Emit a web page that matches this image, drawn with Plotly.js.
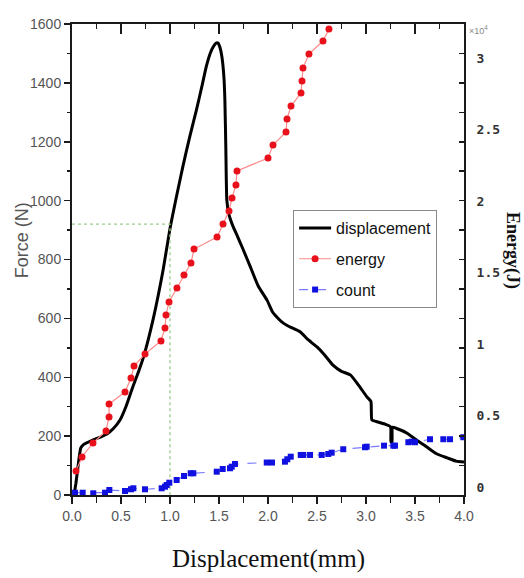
<!DOCTYPE html>
<html>
<head>
<meta charset="utf-8">
<script src="https://cdn.plot.ly/plotly-3.0.1.min.js"></script>
<style>html,body{margin:0;padding:0;background:#fff;}#chart{width:524px;height:578px;}</style>
</head>
<body>
<div id="chart"></div>
<script>
// ---- data ----
const dispX = [0.02,0.04,0.07,0.09,0.12,0.20,0.29,0.36,0.42,0.49,0.55,0.62,0.68,0.73,0.83,0.93,1.00,1.07,1.13,1.20,1.27,1.33,1.37,1.41,1.44,1.47,1.49,1.51,1.53,1.55,1.56,1.57,1.58,1.60,1.64,1.68,1.74,1.82,1.90,1.99,2.05,2.14,2.20,2.33,2.40,2.50,2.58,2.66,2.75,2.84,2.92,3.01,3.05,3.06,3.10,3.20,3.25,3.255,3.265,3.27,3.32,3.42,3.50,3.62,3.72,3.83,3.92,4.00];
const dispF = [0,40,120,160,172,185,197,208,225,255,300,367,420,469,600,765,905,1020,1114,1215,1308,1395,1455,1500,1522,1535,1535,1520,1488,1420,1342,1172,1002,955,915,885,839,775,710,662,620,588,575,554,530,503,475,442,420,408,375,333,318,255,250,240,232,180,180,230,225,210,190,163,140,126,115,112];

const energyX = [0.041,0.102,0.214,0.347,0.378,0.378,0.541,0.602,0.633,0.745,0.908,0.949,0.959,0.990,1.071,1.143,1.214,1.245,1.480,1.541,1.602,1.633,1.673,1.684,2.000,2.051,2.184,2.194,2.235,2.337,2.347,2.357,2.418,2.561,2.622];
const energyV = [0.112,0.210,0.308,0.392,0.490,0.580,0.664,0.762,0.846,0.930,1.021,1.112,1.203,1.294,1.392,1.483,1.566,1.664,1.748,1.839,1.930,2.021,2.112,2.210,2.301,2.392,2.483,2.573,2.664,2.755,2.839,2.930,3.028,3.119,3.203];

const countX = [0.031,0.109,0.217,0.337,0.381,0.541,0.602,0.626,0.745,0.915,0.949,0.966,0.993,1.068,1.143,1.211,1.238,1.477,1.538,1.612,1.630,1.663,1.987,2.041,2.173,2.197,2.232,2.334,2.360,2.429,2.548,2.615,2.650,2.768,2.990,3.007,3.184,3.279,3.296,3.432,3.466,3.500,3.653,3.789,3.857,3.993];
const countV = [-0.040,-0.040,-0.044,-0.040,-0.021,-0.028,-0.016,-0.009,-0.016,-0.009,0.002,0.014,0.030,0.049,0.077,0.096,0.096,0.107,0.126,0.131,0.142,0.161,0.171,0.171,0.177,0.194,0.212,0.224,0.224,0.224,0.224,0.231,0.240,0.264,0.278,0.282,0.289,0.289,0.289,0.313,0.317,0.313,0.334,0.334,0.334,0.348];

const guideX = [0, 1.0, 1.0];
const guideY = [920, 920, 0];

const seriesNames = ['displacement', 'energy', 'count'];
const energyTickVals = [0, 0.5, 1, 1.5, 2, 2.5, 3];
const energyTickText = ['0', '0.5', '1', '1.5', '2', '2.5', '3'];

// ---- chart ----
const sans = 'Arial, "Liberation Sans", sans-serif';
const serif = '"Times New Roman", "Liberation Serif", serif';

const traces = [
  {x: dispX, y: dispF, name: seriesNames[0], mode: 'lines', legendgroup: 'a',
   line: {color: '#000000', width: 3, shape: 'spline', smoothing: 0.5}, hoverinfo: 'skip'},
  {x: energyX, y: energyV, name: seriesNames[1], mode: 'lines+markers', yaxis: 'y2', legendgroup: 'b',
   line: {color: '#ff8a8a', width: 1.2},
   marker: {color: '#e8101a', size: 7, symbol: 'circle'}, hoverinfo: 'skip'},
  {x: countX, y: countV, name: seriesNames[2], mode: 'lines+markers', yaxis: 'y2', legendgroup: 'c',
   line: {color: '#7a7aff', width: 1.2, dash: 'dash'},
   marker: {color: '#1010e0', size: 6, symbol: 'square'}, hoverinfo: 'skip'},
  {x: guideX, y: guideY, mode: 'lines', showlegend: false,
   line: {color: '#9ccc8c', width: 1.3, dash: 'dot'}, hoverinfo: 'skip'},
  {x: [], y: [], xaxis: 'x2', yaxis: 'y3', mode: 'lines', showlegend: false, hoverinfo: 'skip'}
];

const axisLine = {showline: true, linecolor: '#1a1a1a', linewidth: 2, showgrid: false, zeroline: false};

const layout = {
  width: 524, height: 578,
  margin: {l: 72, r: 60, t: 24, b: 83},
  paper_bgcolor: '#ffffff', plot_bgcolor: '#ffffff',
  showlegend: true,
  xaxis: Object.assign({}, axisLine, {
    range: [0, 4], tickmode: 'linear', tick0: 0, dtick: 0.5, tickformat: '.1f',
    ticks: 'outside', ticklen: 7, tickwidth: 1.5, tickcolor: '#1a1a1a',
    minor: {dtick: 0.25, ticks: 'outside', ticklen: 6, tickwidth: 1.5, tickcolor: '#1a1a1a'},
    tickfont: {family: sans, size: 14, color: '#555555'},
    anchor: 'y'
  }),
  xaxis2: Object.assign({}, axisLine, {
    range: [0, 4], overlaying: 'x', side: 'top', anchor: 'y',
    tickmode: 'linear', tick0: 0, dtick: 0.5, ticks: 'inside', ticklen: 10, tickwidth: 1.5, tickcolor: '#1a1a1a',
    minor: {dtick: 0.25, ticks: 'inside', ticklen: 5, tickwidth: 1.5, tickcolor: '#1a1a1a'},
    showticklabels: false
  }),
  yaxis: Object.assign({}, axisLine, {
    range: [0, 1600], tickmode: 'linear', tick0: 0, dtick: 200,
    ticks: 'outside', ticklen: 6, tickwidth: 1.5, tickcolor: '#1a1a1a',
    minor: {dtick: 100, ticks: 'outside', ticklen: 3, tickwidth: 1.5, tickcolor: '#1a1a1a'},
    tickfont: {family: sans, size: 14, color: '#555555'},
    anchor: 'x'
  }),
  yaxis2: Object.assign({}, axisLine, {
    range: [-0.056, 3.238], overlaying: 'y', side: 'right', anchor: 'x',
    tickmode: 'array', tickvals: energyTickVals, ticktext: energyTickText,
    ticks: '', ticklabelstandoff: 8,
    tickfont: {family: '"DejaVu Sans Mono", monospace', size: 13, color: '#333333', weight: 'bold'}
  }),
  yaxis3: {
    range: [0, 1600], overlaying: 'y', side: 'right', anchor: 'x',
    showline: false, showgrid: false, zeroline: false,
    tickmode: 'linear', tick0: 0, dtick: 100, ticks: 'inside', ticklen: 5, tickwidth: 1.5, tickcolor: '#1a1a1a',
    showticklabels: false
  },
  legend: {
    x: 0.564, y: 0.605, xanchor: 'left', yanchor: 'top',
    bordercolor: '#8a8a8a', borderwidth: 1, bgcolor: '#ffffff',
    font: {family: sans, size: 16, color: '#111111'},
    traceorder: 'grouped', tracegroupgap: 7, itemwidth: 32
  },
  annotations: [
    {text: 'Force (N)', xref: 'paper', yref: 'paper', x: -0.1276, y: 0.541, textangle: -90,
     showarrow: false, xanchor: 'center', yanchor: 'middle', font: {family: sans, size: 18, color: '#555555'}},
    {text: 'Energy(J)', xref: 'paper', yref: 'paper', x: 1.125, y: 0.52, textangle: 90,
     showarrow: false, xanchor: 'center', yanchor: 'middle', font: {family: serif, size: 18, color: '#111111', weight: 'bold'}},
    {text: 'Displacement(mm)', xref: 'paper', yref: 'paper', x: 0.5, y: -0.135,
     showarrow: false, xanchor: 'center', yanchor: 'middle', font: {family: serif, size: 25, color: '#111111'}},
    {text: '×10<sup>4</sup>', xref: 'paper', yref: 'paper', x: 1.036, y: 0.987,
     showarrow: false, xanchor: 'center', yanchor: 'middle', font: {family: sans, size: 9, color: '#888888'}}
  ]
};

Plotly.newPlot('chart', traces, layout, {displayModeBar: false, staticPlot: true});
</script>
</body>
</html>
